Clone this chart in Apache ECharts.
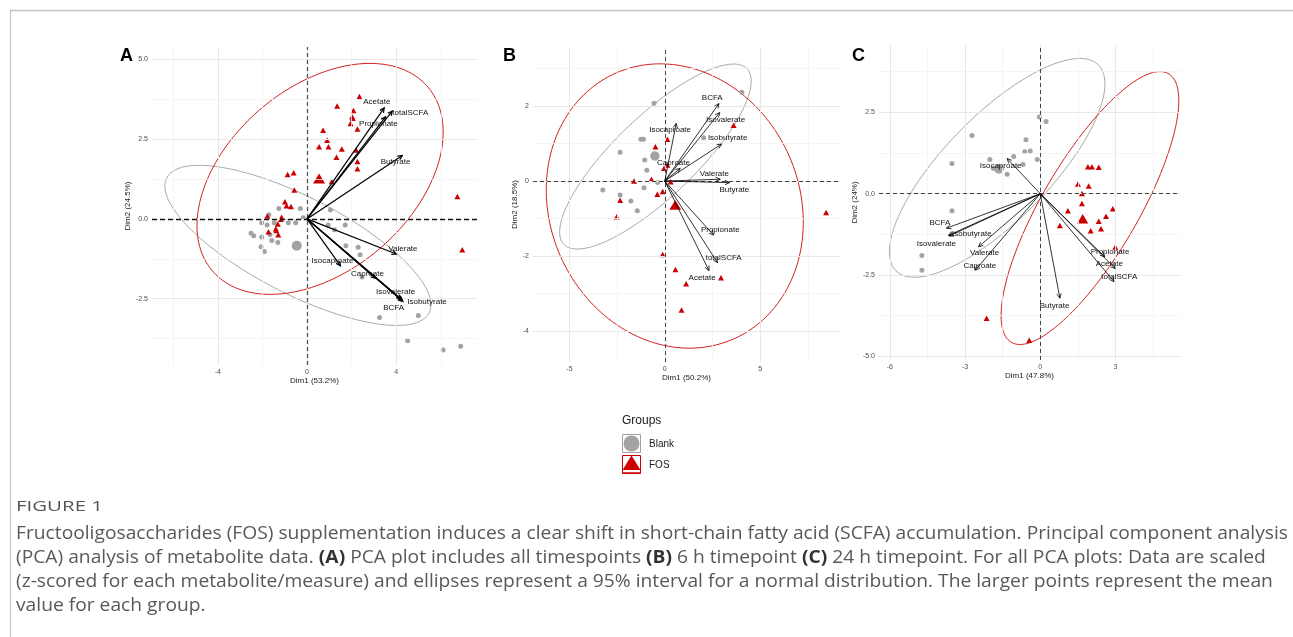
<!DOCTYPE html>
<html>
<head>
<meta charset="utf-8">
<script src="https://cdn.jsdelivr.net/npm/echarts@6/dist/echarts.min.js"></script>
<style>
  html, body { margin: 0; padding: 0; background: #fff; }
  #main { width: 1293px; height: 637px; }
</style>
</head>
<body>
<div id="main"></div>
<script>
// ---- data ----
const varNames = ['Acetate', 'totalSCFA', 'Propionate', 'Butyrate', 'Valerate',
  'Isocaproate', 'Caproate', 'Isovalerate', 'Isobutyrate', 'BCFA'];

// A: all timepoints
const blankA = [[-2.03,-0.12],[-1.79,-0.19],[-1.47,-0.12],[-1.26,0.33],[-0.30,0.33],[-0.84,-0.12],
  [-0.51,-0.12],[-0.17,0.04],[-2.51,-0.45],[-2.39,-0.53],[-2.03,-0.57],[-1.66,-0.50],[-1.58,-0.68],
  [-2.06,-0.87],[-1.91,-1.02],[-1.31,-0.74],[-1.71,0.13],[1.05,0.28],[0.95,-0.19],[1.23,-0.34],
  [1.71,-0.19],[1.74,-0.84],[2.29,-0.89],[2.38,-1.12],[2.47,-1.82],[3.25,-3.09],[4.99,-3.03],
  [4.51,-3.82],[6.10,-4.11],[6.89,-3.99]];
const fosA = [[2.35,3.84],[1.35,3.54],[2.08,3.40],[2.02,3.20],[2.05,3.16],[1.95,2.99],[2.26,2.82],
  [0.72,2.78],[0.90,2.47],[0.54,2.26],[0.96,2.26],[1.56,2.19],[2.20,2.16],[1.32,1.93],[2.26,1.80],
  [2.26,1.57],[1.11,1.17],[-0.87,1.39],[-0.60,1.45],[-0.57,0.91],[-0.99,0.54],[-0.92,0.41],
  [-0.72,0.39],[-1.78,0.09],[-1.14,0.05],[-1.17,-0.01],[-1.31,-0.16],[-1.40,-0.31],[-1.73,-0.40],
  [-1.29,-0.50],[-1.38,-0.36],[6.74,0.70],[6.96,-0.97]];
const blankMeanA = [[-0.46,-0.84]];
const fosMeanA = [[0.54,1.27]];
const loadA = [[3.46,3.48],[3.82,3.38],[3.52,3.20],[4.27,1.99],[4.00,-1.10],[1.50,-1.47],
  [3.07,-1.86],[4.21,-2.51],[4.30,-2.59],[4.27,-2.55]];
const labelA = [[3.13,3.67],[4.63,3.32],[3.20,2.99],[3.97,1.78],[4.30,-0.93],[1.14,-1.30],
  [2.71,-1.72],[3.97,-2.28],[5.38,-2.61],[3.88,-2.79]];
// ellipse: centre x, centre y, semi-axis 1, semi-axis 2, angle (deg)
const ellBlankA = [-0.41, -0.83, 6.27, 1.60, -18.6];
const ellFosA = [0.585, 1.255, 5.8, 3.15, 21.5];

// B: 6 h
const blankB = [[4.04,2.37],[-0.56,2.08],[-1.25,1.12],[-1.12,1.12],[-2.34,0.77],[-1.05,0.56],
  [-0.94,0.29],[-0.37,-0.04],[-3.25,-0.24],[-1.09,-0.18],[-2.34,-0.37],[-1.78,-0.53],[-1.44,-0.79],
  [2.04,1.16]];
const fosB = [[8.46,-0.84],[3.61,1.49],[0.14,1.12],[-0.49,0.92],[-0.04,0.34],[0.14,0.43],[-1.61,0.0],
  [-0.70,0.05],[0.31,-0.02],[-0.11,-0.28],[-0.39,-0.35],[-2.34,-0.51],[-2.52,-0.95],[-0.11,-1.96],
  [0.56,-2.36],[2.95,-2.58],[1.12,-2.74],[0.88,-3.44]];
const blankMeanB = [[-0.52,0.67]];
const fosMeanB = [[0.55,-0.64]];
const loadB = [[2.32,-2.39],[2.77,-2.18],[2.56,-1.44],[3.40,-0.04],[2.91,0.05],[0.60,1.54],
  [0.81,0.34],[2.88,1.83],[2.98,0.99],[2.84,2.07]];
const labelB = [[1.96,-2.58],[3.09,-2.04],[2.91,-1.29],[3.65,-0.22],[2.60,0.20],[0.28,1.36],
  [0.46,0.49],[3.19,1.63],[3.30,1.16],[2.49,2.23]];
const ellBlankB = [-0.49, 0.655, 5.44, 1.32, 23.3];
const ellFosB = [0.525, -0.665, 6.76, 3.76, -5.3];

// C: 24 h
const blankC = [[-0.04,2.36],[0.23,2.22],[-2.72,1.79],[-0.57,1.66],[-0.62,1.29],[-0.40,1.31],
  [-1.06,1.14],[-2.01,1.05],[-0.12,1.05],[-0.69,0.90],[-3.52,0.93],[-1.87,0.78],[-1.54,0.78],
  [-1.32,0.60],[-3.52,-0.52],[-4.72,-1.90],[-4.72,-2.35]];
const fosC = [[1.90,0.83],[2.06,0.83],[2.33,0.81],[1.50,0.30],[1.93,0.24],[1.66,0.01],[1.66,-0.30],
  [1.10,-0.52],[2.89,-0.46],[2.62,-0.69],[2.33,-0.85],[2.42,-1.08],[2.01,-1.14],[0.78,-0.98],
  [2.99,-1.64],[-2.14,-3.83],[-0.44,-4.50]];
const blankMeanC = [[-1.65,0.76]];
const fosMeanC = [[1.69,-0.77]];
const loadC = [[2.99,-2.30],[2.94,-2.70],[2.57,-1.94],[0.78,-3.21],[-2.46,-1.63],[-1.32,1.08],
  [-2.59,-2.35],[-3.63,-1.30],[-3.66,-1.28],[-3.74,-1.06]];
const labelC = [[2.75,-2.14],[3.15,-2.55],[2.78,-1.77],[0.57,-3.43],[-2.22,-1.83],[-1.58,0.85],
  [-2.41,-2.20],[-4.14,-1.55],[-2.73,-1.22],[-4.00,-0.89]];
const ellBlankC = [-1.72, 0.795, 5.15, 1.8, 36.05];
const ellFosC = [1.98, -0.44, 5.2, 1.76, 51.07];

// axis breaks
const xTicksA = [-4, 0, 4], xMinorA = [-6, -2, 2, 6];
const yTicksA = [-2.5, 0, 2.5, 5], yMinorA = [-3.75, -1.25, 1.25, 3.75];
const xTicksB = [-5, 0, 5], xMinorB = [-2.5, 2.5, 7.5];
const yTicksB = [-4, -2, 0, 2], yMinorB = [-3, -1, 1, 3];
const xTicksC = [-6, -3, 0, 3], xMinorC = [-4.5, -1.5, 1.5, 4.5];
const yTicksC = [-5, -2.5, 0, 2.5], yMinorC = [-3.75, -1.25, 1.25, 3.75];

const FONT = 'Liberation Sans, Arial, sans-serif';
const GRAY = '#a3a3a3';
const RED = '#cc0000';

var chart = echarts.init(document.getElementById('main'), null, { renderer: 'canvas' });

function axisOf(gi, min, max, ticks, name, gap, fmt) {
  return {
    type: 'value', gridIndex: gi, min: min, max: max,
    name: name, nameLocation: 'middle', nameGap: gap,
    nameTextStyle: { fontFamily: FONT, fontSize: 8, color: '#1a1a1a' },
    axisLine: { show: false }, splitLine: { show: false },
    axisTick: { show: true, length: 2.5, customValues: ticks, lineStyle: { color: '#333', width: 0.8 } },
    axisLabel: { customValues: ticks, formatter: fmt, fontFamily: FONT, fontSize: 7, color: '#4d4d4d', margin: 4 }
  };
}
function fmtInt(v) { return String(v); }
function fmt1(v) { return v.toFixed(1); }

function gridSeries(gi, xMajor, xMinor, yMajor, yMinor, hStyle, vStyle) {
  var d = [];
  xMinor.forEach(function (v) { d.push({ xAxis: v, lineStyle: { color: '#f2f2f2', width: 0.8, type: 'solid' } }); });
  yMinor.forEach(function (v) { d.push({ yAxis: v, lineStyle: { color: '#f2f2f2', width: 0.8, type: 'solid' } }); });
  xMajor.forEach(function (v) { d.push({ xAxis: v, lineStyle: { color: '#e8e8e8', width: 1, type: 'solid' } }); });
  yMajor.forEach(function (v) { d.push({ yAxis: v, lineStyle: { color: '#e8e8e8', width: 1, type: 'solid' } }); });
  d.push({ yAxis: 0, lineStyle: hStyle });
  d.push({ xAxis: 0, lineStyle: vStyle });
  return {
    type: 'scatter', xAxisIndex: gi, yAxisIndex: gi, data: [], z: 1, silent: true,
    markLine: { silent: true, symbol: ['none', 'none'], label: { show: false }, animation: false, data: d }
  };
}

function ellipseSeries(gi, e, color) {
  return {
    type: 'custom', xAxisIndex: gi, yAxisIndex: gi, z: 2, silent: true,
    data: [e], encode: { x: 0, y: 1 },
    renderItem: function (params, api) {
      var cx = api.value(0), cy = api.value(1), a = api.value(2), b = api.value(3);
      var th = api.value(4) * Math.PI / 180;
      var pts = [];
      for (var k = 0; k <= 180; k++) {
        var t = k / 180 * 2 * Math.PI;
        pts.push(api.coord([
          cx + a * Math.cos(t) * Math.cos(th) - b * Math.sin(t) * Math.sin(th),
          cy + a * Math.cos(t) * Math.sin(th) + b * Math.sin(t) * Math.cos(th)
        ]));
      }
      return { type: 'polygon', shape: { points: pts }, style: { fill: 'none', stroke: color, lineWidth: 1 } };
    }
  };
}

function pointSeries(gi, data, shape, size, color, z) {
  return {
    type: 'scatter', xAxisIndex: gi, yAxisIndex: gi, data: data, symbol: shape,
    symbolSize: size, itemStyle: { color: color, opacity: 1 }, z: z, silent: true
  };
}

function arrowSeries(gi, loads, labels, width) {
  return {
    type: 'custom', xAxisIndex: gi, yAxisIndex: gi, z: 5, silent: true,
    data: loads.map(function (p, i) { return [p[0], p[1], labels[i][0], labels[i][1]]; }),
    encode: { x: 0, y: 1 },
    renderItem: function (params, api) {
      var o = api.coord([0, 0]);
      var t = api.coord([api.value(0), api.value(1)]);
      var l = api.coord([api.value(2), api.value(3)]);
      var ang = Math.atan2(t[1] - o[1], t[0] - o[0]);
      var h = 5, sp = Math.PI / 7;
      var p1 = [t[0] - h * Math.cos(ang - sp), t[1] - h * Math.sin(ang - sp)];
      var p2 = [t[0] - h * Math.cos(ang + sp), t[1] - h * Math.sin(ang + sp)];
      return {
        type: 'group', children: [
          { type: 'line', shape: { x1: o[0], y1: o[1], x2: t[0], y2: t[1] }, style: { stroke: '#000', lineWidth: width } },
          { type: 'polyline', shape: { points: [p1, t, p2] }, style: { stroke: '#000', lineWidth: width, fill: 'none' } },
          { type: 'text', x: l[0], y: l[1], style: { text: varNames[params.dataIndex], fontFamily: FONT, fontSize: 8,
            fill: '#111', align: 'center', verticalAlign: 'middle' } }
        ]
      };
    }
  };
}

// caption text, squeezed to the original line length
var capFont = '"Open Sans", sans-serif';
var capLines = [
  'Fructooligosaccharides (FOS) supplementation induces a clear shift in short-chain fatty acid (SCFA) accumulation. Principal component analysis',
  '(PCA) analysis of metabolite data. {b|(A)} PCA plot includes all timespoints {b|(B)} 6 h timepoint {b|(C)} 24 h timepoint. For all PCA plots: Data are scaled',
  '(z-scored for each metabolite/measure) and ellipses represent a 95% interval for a normal distribution. The larger points represent the mean',
  'value for each group.'
];
var cv = document.createElement('canvas').getContext('2d');
cv.font = '18px ' + capFont;
var capScale = 1272 / cv.measureText(capLines[0]).width;
cv.font = '14px ' + capFont;
var figScale = 87 / cv.measureText('FIGURE 1').width;

var graphics = [
  { type: 'line', shape: { x1: 10, y1: 10.5, x2: 1293, y2: 10.5 }, style: { stroke: '#c4c4c4', lineWidth: 1.5 } },
  { type: 'line', shape: { x1: 10.5, y1: 10, x2: 10.5, y2: 637 }, style: { stroke: '#c4c4c4', lineWidth: 1.2 } },
  { type: 'text', x: 120, y: 47, style: { text: 'A', fontFamily: FONT, fontWeight: 'bold', fontSize: 18, fill: '#000' } },
  { type: 'text', x: 503, y: 47, style: { text: 'B', fontFamily: FONT, fontWeight: 'bold', fontSize: 18, fill: '#000' } },
  { type: 'text', x: 852, y: 47, style: { text: 'C', fontFamily: FONT, fontWeight: 'bold', fontSize: 18, fill: '#000' } },
  // legend
  { type: 'text', x: 622, y: 421, style: { text: 'Groups', fontFamily: FONT, fontSize: 12, fill: '#1a1a1a', verticalAlign: 'middle' } },
  { type: 'rect', shape: { x: 622.5, y: 434.5, width: 18, height: 18 }, style: { fill: '#fff', stroke: GRAY, lineWidth: 1 } },
  { type: 'circle', shape: { cx: 631.5, cy: 443.5, r: 8 }, style: { fill: GRAY } },
  { type: 'rect', shape: { x: 622.5, y: 455.5, width: 18, height: 18 }, style: { fill: '#fff', stroke: RED, lineWidth: 1 } },
  { type: 'polygon', shape: { points: [[631.5, 455.5], [640.5, 470], [622.5, 470]] }, style: { fill: RED } },
  { type: 'line', shape: { x1: 622.5, y1: 473, x2: 640.5, y2: 473 }, style: { stroke: RED, lineWidth: 1.5 } },
  { type: 'text', x: 649, y: 444, style: { text: 'Blank', fontFamily: FONT, fontSize: 10, fill: '#1a1a1a', verticalAlign: 'middle' } },
  { type: 'text', x: 649, y: 465, style: { text: 'FOS', fontFamily: FONT, fontSize: 10, fill: '#1a1a1a', verticalAlign: 'middle' } },
  // caption
  { type: 'text', x: 16, y: 507, scaleX: figScale, style: { text: 'FIGURE 1', fontFamily: capFont, fontSize: 14, fill: '#555', verticalAlign: 'middle' } }
];
capLines.forEach(function (line, i) {
  graphics.push({
    type: 'text', x: 16, y: 534 + i * 24, scaleX: capScale,
    style: {
      text: line, fontFamily: capFont, fontSize: 18, fill: '#595959', verticalAlign: 'middle',
      rich: { b: { fontFamily: capFont, fontSize: 18, fontWeight: 'bold', fill: '#333' } }
    }
  });
});

var dashA_h = { color: '#111', width: 1.3, type: [5, 3] };
var dashA_v = { color: '#555', width: 1.3, type: [4, 3] };
var dashBC = { color: '#444', width: 1, type: [4, 3] };

var option = {
  animation: false,
  backgroundColor: '#fff',
  grid: [
    { left: 152, top: 47, width: 325, height: 318 },
    { left: 533, top: 47, width: 307, height: 315 },
    { left: 879, top: 45, width: 301, height: 315 }
  ],
  xAxis: [
    axisOf(0, -6.95, 7.62, xTicksA, 'Dim1 (53.2%)', 11, fmtInt),
    axisOf(1, -6.91, 9.19, xTicksB, 'Dim1 (50.2%)', 12, fmtInt),
    axisOf(2, -6.43, 5.57, xTicksC, 'Dim1 (47.8%)', 9, fmtInt)
  ],
  yAxis: [
    axisOf(0, -4.58, 5.39, yTicksA, 'Dim2 (24.5%)', 20, fmt1),
    axisOf(1, -4.83, 3.58, yTicksB, 'Dim2 (18.5%)', 11, fmtInt),
    axisOf(2, -5.11, 4.57, yTicksC, 'Dim2 (24%)', 17, fmt1)
  ],
  graphic: graphics,
  series: [
    gridSeries(0, xTicksA, xMinorA, yTicksA, yMinorA, dashA_h, dashA_v),
    gridSeries(1, xTicksB, xMinorB, yTicksB, yMinorB, dashBC, dashBC),
    gridSeries(2, xTicksC, xMinorC, yTicksC, yMinorC, dashBC, dashBC),
    ellipseSeries(0, ellBlankA, '#a8a8a8'), ellipseSeries(0, ellFosA, '#d42020'),
    ellipseSeries(1, ellBlankB, '#a8a8a8'), ellipseSeries(1, ellFosB, '#d42020'),
    ellipseSeries(2, ellBlankC, '#a8a8a8'), ellipseSeries(2, ellFosC, '#d42020'),
    pointSeries(0, blankA, 'circle', 5, GRAY, 3), pointSeries(0, fosA, 'triangle', [6, 5.5], RED, 3),
    pointSeries(0, blankMeanA, 'circle', 10, GRAY, 3), pointSeries(0, fosMeanA, 'triangle', [12, 10], RED, 3),
    pointSeries(1, blankB, 'circle', 5, GRAY, 3), pointSeries(1, fosB, 'triangle', [6, 5.5], RED, 3),
    pointSeries(1, blankMeanB, 'circle', 9.5, GRAY, 3), pointSeries(1, fosMeanB, 'triangle', [12, 9.5], RED, 3),
    pointSeries(2, blankC, 'circle', 5, GRAY, 3), pointSeries(2, fosC, 'triangle', [6, 5.5], RED, 3),
    pointSeries(2, blankMeanC, 'circle', 9.5, GRAY, 3), pointSeries(2, fosMeanC, 'triangle', [11, 9.5], RED, 3),
    arrowSeries(0, loadA, labelA, 1.2),
    arrowSeries(1, loadB, labelB, 0.8),
    arrowSeries(2, loadC, labelC, 0.8)
  ]
};
chart.setOption(option);
window.addEventListener('resize', chart.resize);
</script>
</body>
</html>
